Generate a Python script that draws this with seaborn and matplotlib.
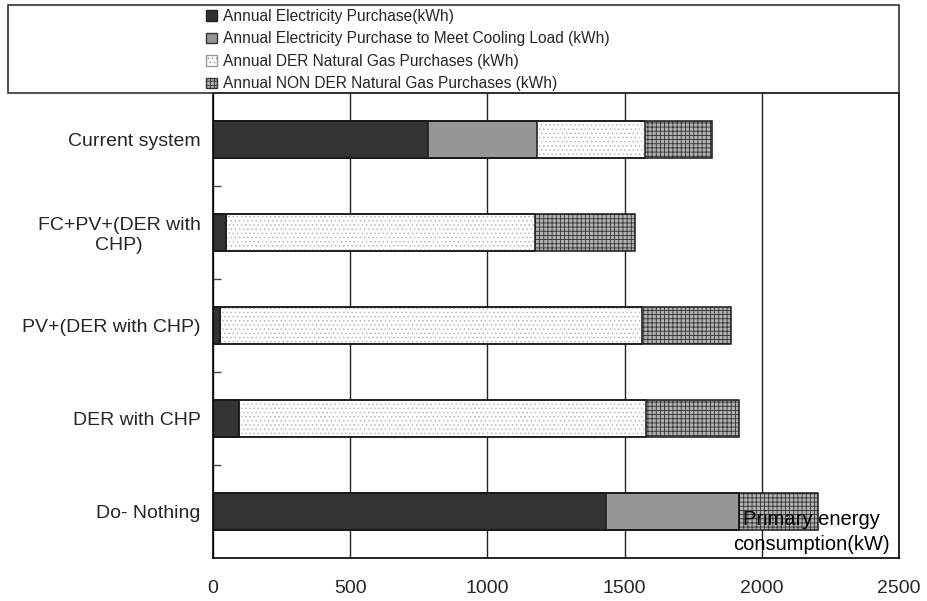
import pandas as pd
import seaborn as sns
import matplotlib.pyplot as plt
from matplotlib.patches import Patch, Rectangle

# Scenarios, top to bottom
scenarios = ["Current system", "FC+PV+(DER with\nCHP)", "PV+(DER with CHP)",
             "DER with CHP", "Do- Nothing"]

# Primary energy consumption by source (kW)
elec_purchase = [782, 46, 27, 94, 1431]
cooling_purchase = [400, 0, 0, 0, 487]
der_gas = [393, 1129, 1536, 1484, 0]
non_der_gas = [243, 363, 325, 340, 288]

series_names = [
    "Annual Electricity Purchase(kWh)",
    "Annual Electricity Purchase to Meet Cooling Load (kWh)",
    "Annual DER Natural Gas Purchases (kWh)",
    "Annual NON DER Natural Gas Purchases (kWh)",
]

df = pd.DataFrame({
    "scenario": scenarios,
    "elec": elec_purchase,
    "cool": cooling_purchase,
    "der": der_gas,
    "nonder": non_der_gas,
})
# cumulative totals for stacking
df["c1"] = df["elec"]
df["c2"] = df["c1"] + df["cool"]
df["c3"] = df["c2"] + df["der"]
df["c4"] = df["c3"] + df["nonder"]

sns.set_theme(style="white")
plt.rcParams["font.family"] = ["Liberation Sans", "DejaVu Sans"]
plt.rcParams["hatch.linewidth"] = 0.6

fig = plt.figure(figsize=(9.27, 6.01), dpi=100)
ax = fig.add_axes([0.2298, 0.0716, 0.7400, 0.7737])

# (column, face colour, hatch, hatch colour) - drawn from the total downwards
layers = [
    ("c4", "#b0b0b0", "++++", "#333333"),
    ("c3", "white", "....", "#b8b8b8"),
    ("c2", "#969696", None, "#969696"),
    ("c1", "#333333", None, "#333333"),
]
for col, face, hatch, hcol in layers:
    sns.barplot(data=df, x=col, y="scenario", orient="h", width=0.4,
                color=face, saturation=1, edgecolor=hcol, linewidth=0,
                hatch=hatch, errorbar=None, ax=ax)

# segment outlines
for col in ["c4", "c3", "c2", "c1"]:
    sns.barplot(data=df, x=col, y="scenario", orient="h", width=0.4,
                color="#1a1a1a", fill=False, linewidth=1.1,
                errorbar=None, ax=ax)

ax.set_xlim(0, 2500)
ax.set_xticks(range(0, 2501, 500))
ax.set_xlabel("")
ax.set_ylabel("")
ax.set_axisbelow(True)
ax.xaxis.grid(True, color="#222222", linewidth=1)
ax.yaxis.grid(False)

ax.set_yticks([0.5, 1.5, 2.5, 3.5], minor=True)
ax.tick_params(axis="y", which="major", length=0, pad=9, labelsize=14)
ax.tick_params(axis="y", which="minor", direction="in", length=6,
               left=True, color="#444444", width=1)
ax.tick_params(axis="x", length=0, pad=16, labelsize=14)
for lab in ax.get_yticklabels():
    lab.set_multialignment("center")

for sp in ax.spines.values():
    sp.set_color("black")
    sp.set_linewidth(1.2)

ax.text(0.872, 0.056, "Primary energy\nconsumption(kW)", transform=ax.transAxes,
        ha="center", va="center", fontsize=14.5, linespacing=1.4, color="black")

# legend box above the plot
fig.add_artist(Rectangle((8 / 927, 508 / 601), 891 / 927, 88 / 601,
                         transform=fig.transFigure, fill=False,
                         edgecolor="#333333", linewidth=1.2))
handles = [
    Patch(facecolor="#333333", edgecolor="#222222"),
    Patch(facecolor="#969696", edgecolor="#333333"),
    Patch(facecolor="white", edgecolor="#999999", hatch="...."),
    Patch(facecolor="#b0b0b0", edgecolor="#333333", hatch="++++"),
]
fig.legend(handles, series_names, loc="upper left",
           bbox_to_anchor=(206 / 927, 1 - 9 / 601), bbox_transform=fig.transFigure,
           frameon=False, fontsize=11.2, borderpad=0, borderaxespad=0,
           labelspacing=0.48, handlelength=0.7, handleheight=0.7,
           handletextpad=0.4)

fig.savefig("out.png", dpi=100)
